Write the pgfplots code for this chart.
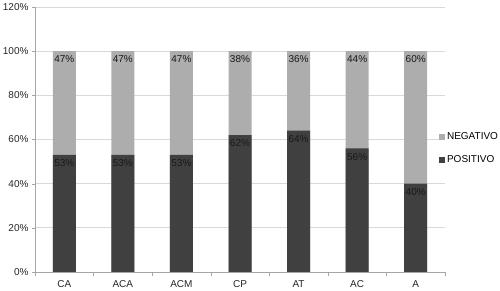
\documentclass[border=0pt]{standalone}
\usepackage{fontspec}
\setmainfont{Liberation Sans}
\usepackage{pgfplots}
\pgfplotsset{compat=1.18}
\definecolor{posc}{HTML}{404040}
\definecolor{negc}{HTML}{ADADAD}
\definecolor{gridc}{HTML}{D9D9D9}
\definecolor{axc}{HTML}{A6A6A6}
\begin{document}
\begin{tikzpicture}[x=1pt,y=1pt]
\path[use as bounding box] (0,0) rectangle (500,291);
\begin{axis}[
  at={(35pt,19pt)}, anchor=south west,
  scale only axis, width=410pt, height=265pt,
  ybar, bar width=23pt, bar shift=0pt,
  xmin=-0.5, xmax=6.5, ymin=0, ymax=120,
  xtick={0,...,6},
  xticklabels={CA,ACA,ACM,CP,AT,AC,A},
  minor xtick={-0.5,0.5,...,6.5},
  major x tick style={draw=none},
  minor x tick style={draw=axc},
  minor tick length=4pt,
  tick align=outside,
  ytick={0,20,...,120},
  yticklabel={\pgfmathprintnumber{\tick}\%},
  /pgf/number format/assume math mode=true,
  ymajorgrids, grid style={draw=gridc, line width=0.8pt},
  major y tick style={draw=axc},
  major tick length=3pt,
  axis x line*=bottom, axis y line*=left,
  axis line style={draw=axc, -},
  ticklabel style={font=\fontsize{10}{12}\selectfont, text=black!85},
  xticklabel style={yshift=-2pt},
  nodes near coords={\pgfmathprintnumber{\pgfplotspointmeta}\%},
  point meta=explicit,
  nodes near coords style={anchor=north, font=\fontsize{10}{12}\selectfont, text=black!90, inner sep=2pt, yshift=-2.5pt},
  legend style={at={(0.985,0.535)}, anchor=north west, draw=none, fill=none,
    font=\fontsize{10}{12}\selectfont, inner sep=0pt, row sep=11pt,
    legend cell align=left, /tikz/every even column/.append style={column sep=1pt}},
  legend image code/.code={\fill[#1] (0pt,-3pt) rectangle (6pt,3pt);},
]
% NEGATIVO segment drawn from 0 to 100 (POSITIVO + NEGATIVO); label = NEGATIVO share
\addplot[fill=negc, draw=none] coordinates {(0,100) [47] (1,100) [47] (2,100) [47] (3,100) [38] (4,100) [36] (5,100) [44] (6,100) [60]};
\addlegendentry{NEGATIVO}
\addplot[fill=posc, draw=none] coordinates {(0,53) [53] (1,53) [53] (2,53) [53] (3,62) [62] (4,64) [64] (5,56) [56] (6,40) [40]};
\addlegendentry{POSITIVO}
\end{axis}
\end{tikzpicture}
\end{document}
